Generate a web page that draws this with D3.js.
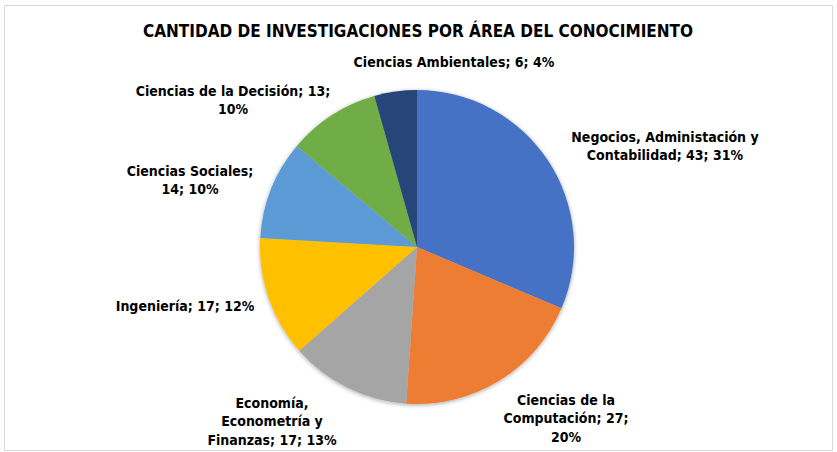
<!DOCTYPE html>
<html lang="es">
<head>
    <meta charset="UTF-8">
    <title>Cantidad de investigaciones por área del conocimiento</title>
    <style>
        body { margin: 0; background: #fff; }
        svg text { font-family: "DejaVu Sans Condensed", "DejaVu Sans", sans-serif; font-weight: bold; fill: #000; }
    </style>
    <script src="https://d3js.org/d3.v7.min.js"></script>
</head>
<body>
<div id="chart"></div>
<script>
    // Data
    const areas = ["Negocios, Administación y Contabilidad", "Ciencias de la Computación",
        "Economía, Econometría y Finanzas", "Ingeniería", "Ciencias Sociales",
        "Ciencias de la Decisión", "Ciencias Ambientales"];
    const counts = [43, 27, 17, 17, 14, 13, 6];
    const percents = ["31%", "20%", "13%", "12%", "10%", "10%", "4%"];
    const colors = ["#4472C4", "#ED7D31", "#A5A5A5", "#FFC000", "#5B9BD5", "#70AD47", "#264478"];

    // How each label wraps, as in the original
    const labelLines = [
        ["Negocios, Administación y", "Contabilidad; 43; 31%"],
        ["Ciencias de la", "Computación; 27;", "20%"],
        ["Economía,", "Econometría y", "Finanzas; 17; 13%"],
        ["Ingeniería; 17; 12%"],
        ["Ciencias Sociales;", "14; 10%"],
        ["Ciencias de la Decisión; 13;", "10%"],
        ["Ciencias Ambientales; 6; 4%"]
    ];
    // label centre offsets from the pie centre (px)
    const labelAt = [[248, -101], [149, 171], [-145, 174], [-232, 59], [-227, -67], [-184, -147], [37, -185]];

    const W = 837, H = 452;
    const cx = 417, cy = 247, r = 157;

    const svg = d3.select("#chart").append("svg")
        .attr("width", W).attr("height", H);

    svg.append("rect")
        .attr("x", 4.5).attr("y", 5.5)
        .attr("width", 828).attr("height", 445)
        .attr("fill", "#fff").attr("stroke", "#d9d9d9");

    const defs = svg.append("defs");
    defs.append("filter").attr("id", "shadow")
        .attr("x", "-10%").attr("y", "-10%").attr("width", "120%").attr("height", "120%")
        .append("feDropShadow")
        .attr("dx", 0).attr("dy", 1).attr("stdDeviation", 2)
        .attr("flood-color", "#000").attr("flood-opacity", 0.35);

    svg.append("text")
        .attr("x", 418).attr("y", 37)
        .attr("text-anchor", "middle")
        .style("font-size", "17px")
        .text("CANTIDAD DE INVESTIGACIONES POR ÁREA DEL CONOCIMIENTO");

    const pie = d3.pie().sort(null).value(d => d)(counts);
    const arc = d3.arc().innerRadius(0).outerRadius(r);

    const g = svg.append("g").attr("transform", `translate(${cx},${cy})`);

    g.append("g").attr("filter", "url(#shadow)")
        .selectAll("path")
        .data(pie)
        .enter().append("path")
        .attr("d", arc)
        .attr("fill", (d, i) => colors[i]);

    const lineH = 18.5;
    g.selectAll(".lbl")
        .data(pie)
        .enter().append("text")
        .attr("class", "lbl")
        .attr("text-anchor", "middle")
        .style("font-size", "14px")
        .each(function (d, i) {
            const lines = labelLines[i];
            const [lx, ly] = labelAt[i];
            const y0 = ly - (lines.length - 1) * lineH / 2 + 5;
            d3.select(this).selectAll("tspan")
                .data(lines)
                .enter().append("tspan")
                .attr("x", lx)
                .attr("y", (t, k) => y0 + k * lineH)
                .text(t => t);
        });
</script>
</body>
</html>
